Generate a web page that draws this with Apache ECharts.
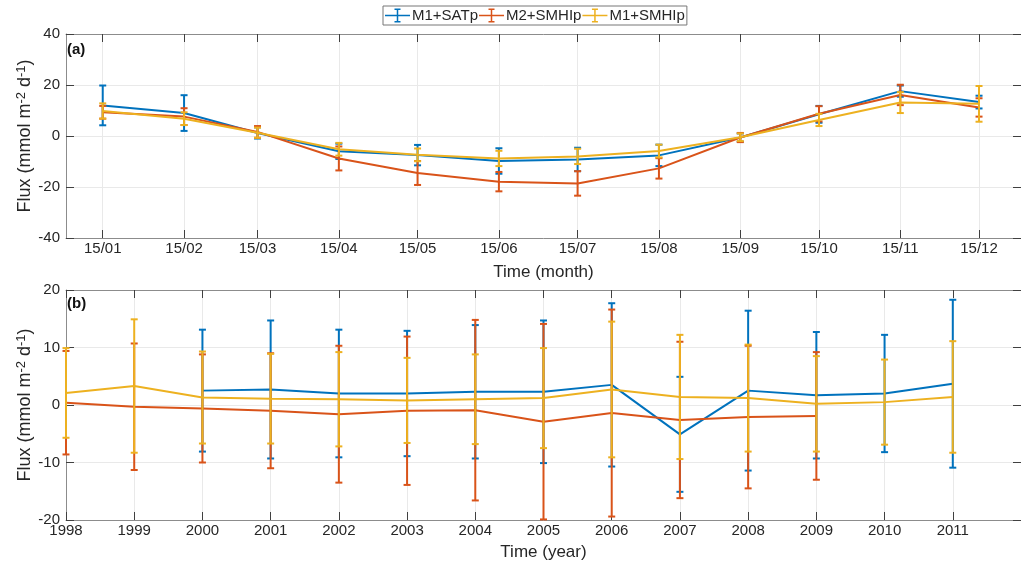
<!DOCTYPE html>
<html><head><meta charset="utf-8">
<script src="https://cdn.jsdelivr.net/npm/echarts@6/dist/echarts.min.js"></script>
<style>html,body{margin:0;padding:0;background:#fff}#c{width:1021px;height:566px}</style>
</head><body><div id="c"></div>
<script>
// ---------- data ----------
const seriesNames = ['M1+SATp', 'M2+SMHIp', 'M1+SMHIp'];
const seriesColors = ['#0072BD', '#D95319', '#EDB120'];

// panel (a): monthly climatology
const monthLabels = ['15/01','15/02','15/03','15/04','15/05','15/06','15/07','15/08','15/09','15/10','15/11','15/12'];
const monthSATp      = [12.0, 9.0, 1.2, -6.0, -7.5, -9.8, -9.2, -7.6, -0.6, 8.5, 17.6, 13.3];
const monthSATpErr   = [7.8, 7.0, 2.2, 3.0, 4.0, 5.0, 4.6, 4.2, 1.6, 3.3, 2.2, 2.5];
const monthM2SMHIp    = [9.3, 7.6, 1.6, -8.8, -14.5, -17.9, -18.6, -12.7, -0.6, 8.7, 16.1, 11.2];
const monthM2SMHIpErr = [2.5, 3.3, 2.3, 4.7, 4.7, 3.8, 4.8, 4.0, 1.8, 3.0, 4.0, 3.6];
const monthM1SMHIp    = [9.8, 6.8, 1.3, -5.2, -7.4, -8.8, -8.0, -5.9, -0.5, 6.3, 13.1, 12.6];
const monthM1SMHIpErr = [3.0, 2.5, 2.0, 2.5, 2.5, 3.0, 3.0, 2.5, 1.5, 2.4, 4.1, 7.0];

// panel (b): annual means
const years = [1998,1999,2000,2001,2002,2003,2004,2005,2006,2007,2008,2009,2010,2011];
const yearSATp      = [null, null, 2.5, 2.7, 2.0, 2.0, 2.3, 2.3, 3.5, -5.1, 2.5, 1.7, 2.0, 3.7];
const yearSATpErr   = [null, null, 10.6, 12.0, 11.1, 10.9, 11.6, 12.4, 14.2, 10.0, 13.9, 11.0, 10.2, 14.6];
const yearM2SMHIp    = [0.4, -0.3, -0.6, -1.0, -1.6, -1.0, -0.9, -2.9, -1.4, -2.6, -2.1, -1.9, null, null];
const yearM2SMHIpErr = [9.0, 11.0, 9.4, 10.0, 11.9, 12.9, 15.7, 17.0, 18.0, 13.6, 12.4, 11.1, null, null];
const yearM1SMHIp    = [2.1, 3.3, 1.3, 1.1, 1.0, 0.8, 1.0, 1.2, 2.7, 1.4, 1.2, 0.2, 0.5, 1.4];
const yearM1SMHIpErr = [7.8, 11.6, 8.0, 7.8, 8.2, 7.4, 7.8, 8.7, 11.8, 10.8, 9.3, 8.3, 7.4, 9.7];

// ---------- helpers ----------
const cumDays = [0,31,59,90,120,151,181,212,243,273,304,334];
function dayOfYear(lbl) { const p = lbl.split('/').map(Number); return cumDays[p[1]-1] + p[0]; }
const monthX = monthLabels.map(dayOfYear);
const labelByDay = {}; monthX.forEach((d,i)=>{ labelByDay[d] = monthLabels[i]; });

function pairs(xs, ys, es) {
  const out = [];
  xs.forEach((x,i)=>{ if (ys[i] !== null && ys[i] !== undefined) out.push(es ? [x, ys[i], es[i]] : [x, ys[i]]); });
  return out;
}
function errRender(color) {
  return function (params, api) {
    const x = api.value(0), y = api.value(1), e = api.value(2);
    const t = api.coord([x, y + e]), b = api.coord([x, y - e]);
    const cw = 3.5;
    const st = { stroke: color, lineWidth: 2, fill: null };
    return { type: 'group', children: [
      { type: 'line', shape: { x1: t[0], y1: t[1], x2: b[0], y2: b[1] }, style: st },
      { type: 'line', shape: { x1: t[0]-cw, y1: t[1], x2: t[0]+cw, y2: t[1] }, style: st },
      { type: 'line', shape: { x1: b[0]-cw, y1: b[1], x2: b[0]+cw, y2: b[1] }, style: st }
    ]};
  };
}

const FONT = 'Liberation Sans, Arial, Helvetica, sans-serif';
const TXT = '#262626';
const AXC = '#8c8c8c';
const TICKC = '#404040';
const GRIDC = '#e9e9e9';

const panelA = [[monthSATp, monthSATpErr], [monthM2SMHIp, monthM2SMHIpErr], [monthM1SMHIp, monthM1SMHIpErr]];
const panelB = [[yearSATp, yearSATpErr], [yearM2SMHIp, yearM2SMHIpErr], [yearM1SMHIp, yearM1SMHIpErr]];

const series = [];
function addPanel(xs, panel, xi, yi) {
  panel.forEach((p, k) => {
    series.push({
      type: 'custom', name: seriesNames[k], xAxisIndex: xi, yAxisIndex: yi, z: 2 + k,
      itemStyle: { color: seriesColors[k] },
      dimensions: ['x', 'y', 'err'], encode: { x: 0, y: 1 },
      renderItem: errRender(seriesColors[k]),
      data: pairs(xs, p[0], p[1]), silent: true
    });
    series.push({
      type: 'line', name: seriesNames[k], xAxisIndex: xi, yAxisIndex: yi, z: 2 + k,
      color: seriesColors[k], showSymbol: false, symbol: 'none',
      lineStyle: { width: 2, color: seriesColors[k] },
      data: pairs(xs, p[0]), silent: true
    });
  });
}
addPanel(monthX, panelA, 0, 0);
addPanel(years, panelB, 2, 2);

const axisBase = {
  axisLine: { show: true, onZero: false, lineStyle: { color: AXC, width: 1 } },
  axisTick: { show: true, inside: true, length: 8, lineStyle: { color: TICKC } },
  axisLabel: { color: TXT, fontSize: 15, fontFamily: FONT },
  nameTextStyle: { color: TXT, fontSize: 17, fontFamily: FONT }
};
function xBottom(grid, min, max, ticks, fmt, name, gap) {
  return Object.assign({}, axisBase, {
    type: 'value', gridIndex: grid, position: 'bottom', min, max,
    name, nameLocation: 'middle', nameGap: gap, nameMoveOverlap: false,
    axisTick: Object.assign({}, axisBase.axisTick, { customValues: ticks }),
    axisLabel: Object.assign({}, axisBase.axisLabel, { customValues: ticks, formatter: fmt, margin: 3 }),
    splitLine: { show: true, lineStyle: { color: GRIDC, width: 1 } }
  });
}
function xTop(grid, min, max, ticks) {
  return Object.assign({}, axisBase, {
    type: 'value', gridIndex: grid, position: 'top', min, max,
    axisTick: Object.assign({}, axisBase.axisTick, { customValues: ticks }),
    axisLabel: { show: false }, splitLine: { show: false }
  });
}
const yName = 'Flux (mmol m{sup|-2} d{sup|-1})';
function yLeft(grid, min, max, interval) {
  return Object.assign({}, axisBase, {
    type: 'value', gridIndex: grid, position: 'left', min, max, interval,
    name: yName, nameLocation: 'middle', nameGap: 31, nameRotate: 90, nameMoveOverlap: false,
    nameTextStyle: { color: TXT, fontSize: 18, fontFamily: FONT, lineHeight: 20,
      rich: { sup: { fontSize: 13, fontFamily: FONT, color: TXT, verticalAlign: 'top', lineHeight: 20 } } },
    axisLabel: Object.assign({}, axisBase.axisLabel, { margin: 6 }),
    splitLine: { show: true, lineStyle: { color: GRIDC, width: 1 } }
  });
}
function yRight(grid, min, max, interval) {
  return Object.assign({}, axisBase, {
    type: 'value', gridIndex: grid, position: 'right', min, max, interval,
    axisLabel: { show: false }, splitLine: { show: false }
  });
}

const errIcon = 'path://M0,6.25h25v1.5h-25z M11.75,0h1.5v14h-1.5z M9.5,0h6v1.5h-6z M9.5,12.5h6v1.5h-6z';

const option = {
  animation: false,
  backgroundColor: '#fff',
  textStyle: { fontFamily: FONT },
  title: [
    { text: '(a)', left: 67, top: 42, padding: 0, textStyle: { fontSize: 15, fontWeight: 'bold', color: '#111', fontFamily: FONT } },
    { text: '(b)', left: 67, top: 296, padding: 0, textStyle: { fontSize: 15, fontWeight: 'bold', color: '#111', fontFamily: FONT } }
  ],
  legend: {
    data: seriesNames.map(n => ({ name: n, icon: errIcon })),
    left: 383, top: 6, orient: 'horizontal',
    itemWidth: 25, itemHeight: 14, itemGap: 1, padding: [2, 2],
    borderColor: '#777', borderWidth: 1, backgroundColor: '#fff',
    textStyle: { fontSize: 15, color: TXT, fontFamily: FONT, padding: [0, 0, 0, -3] },
    selectedMode: false
  },
  grid: [
    { left: 66, top: 34, width: 964, height: 204 },
    { left: 66, top: 290, width: 964, height: 230 }
  ],
  xAxis: [
    xBottom(0, 1, 365, monthX, v => labelByDay[v] || '', 'Time (month)', 26),
    xTop(0, 1, 365, monthX),
    xBottom(1, 1998, 2012, years, v => String(v), 'Time (year)', 24),
    xTop(1, 1998, 2012, years)
  ],
  yAxis: [
    yLeft(0, -40, 40, 20), yRight(0, -40, 40, 20),
    yLeft(1, -20, 20, 10), yRight(1, -20, 20, 10)
  ],
  series
};
const chart = echarts.init(document.getElementById('c'), null, { renderer: 'canvas' });
chart.setOption(option);
</script></body></html>
